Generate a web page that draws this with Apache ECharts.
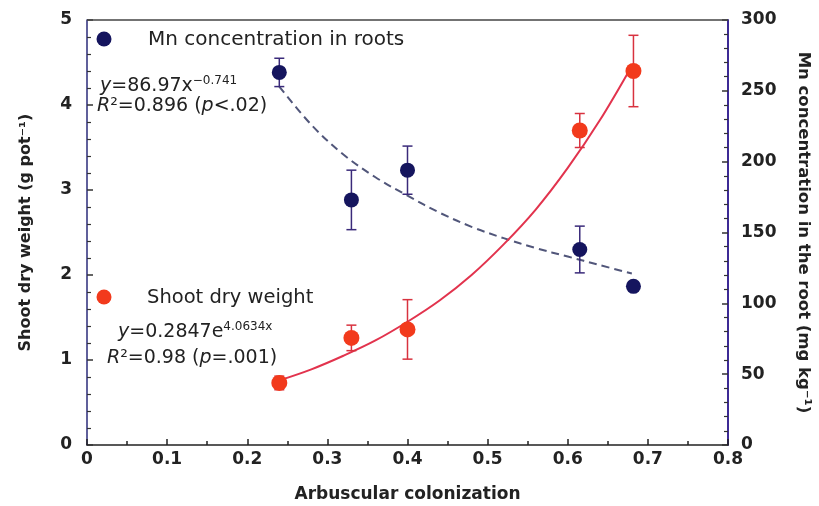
<!DOCTYPE html>
<html>
<head>
<meta charset="utf-8">
<script src="https://cdn.jsdelivr.net/npm/echarts@6/dist/echarts.min.js"></script>
<style>html,body{margin:0;padding:0;background:#fff;}#c{width:819px;height:506px;}</style>
</head>
<body>
<div id="c"></div>
<script>
// Observed data
const colonization = [0.24, 0.33, 0.40, 0.615, 0.682];
const mnRoot = [263, 173, 194, 138, 112];
const mnErr = [10, 21, 17, 16.5, 0];
const shootDW = [0.73, 1.26, 1.36, 3.70, 4.40];
const shootErr = [0.08, 0.15, 0.35, 0.20, 0.42];
// Fitted curves
const fitX = [0.24, 0.28, 0.32, 0.36, 0.40, 0.44, 0.48, 0.52, 0.56, 0.60, 0.64, 0.68];
const fitMn = [253, 226, 205, 189, 176, 164, 154, 146, 139, 133, 127, 121];
const fitShoot = [0.76, 0.89, 1.05, 1.23, 1.45, 1.70, 2.00, 2.36, 2.77, 3.26, 3.82, 4.46];
const xTicks = [0, 0.1, 0.2, 0.3, 0.4, 0.5, 0.6, 0.7, 0.8];

const FONT = 'DejaVu Sans';
const TXT = '#222';
const chart = echarts.init(document.getElementById('c'), null, {renderer: 'canvas'});

function errSeries(name, yIdx, ys, errs, color) {
  return {
    name: name, type: 'custom', yAxisIndex: yIdx, z: 3,
    data: colonization.map((x, i) => [x, ys[i] - errs[i], ys[i] + errs[i]]),
    encode: {x: 0, y: [1, 2]},
    renderItem: function (params, api) {
      const lo = api.coord([api.value(0), api.value(1)]);
      const hi = api.coord([api.value(0), api.value(2)]);
      if (Math.abs(hi[1] - lo[1]) < 1) return null;
      const w = 5;
      const st = {stroke: color, lineWidth: 1.5};
      return {type: 'group', children: [
        {type: 'line', shape: {x1: lo[0], y1: lo[1], x2: hi[0], y2: hi[1]}, style: st},
        {type: 'line', shape: {x1: lo[0] - w, y1: lo[1], x2: lo[0] + w, y2: lo[1]}, style: st},
        {type: 'line', shape: {x1: hi[0] - w, y1: hi[1], x2: hi[0] + w, y2: hi[1]}, style: st}
      ]};
    }
  };
}

const labelStyle = {color: TXT, fontFamily: FONT, fontSize: 17, fontWeight: 'bold'};
const eqRich = {
  i: {fontFamily: FONT, fontStyle: 'italic', fontSize: 19, fill: TXT, lineHeight: 21, verticalAlign: 'bottom'},
  a: {fontFamily: FONT, fontSize: 19, fill: TXT, lineHeight: 21, verticalAlign: 'bottom'},
  s: {fontFamily: FONT, fontSize: 12, fill: TXT, lineHeight: 11, verticalAlign: 'top'}
};

const option = {
  animation: false,
  backgroundColor: '#fff',
  grid: {left: 87, right: 91, top: 20, bottom: 61, outerBoundsMode: 'none', containLabel: false},
  xAxis: {
    type: 'value', min: 0, max: 0.8, interval: 0.1,
    position: 'bottom',
    axisLine: {show: true, onZero: false, lineStyle: {color: '#222', width: 1.5}},
    axisTick: {show: true, inside: true, length: 6, lineStyle: {color: '#222', width: 1.5}},
    minorTick: {show: true, splitNumber: 2, length: 4, lineStyle: {color: '#222', width: 1.5}},
    splitLine: {show: false},
    axisLabel: Object.assign({margin: 6, formatter: v => String(Math.round(v * 10) / 10)}, labelStyle),
    name: 'Arbuscular colonization', nameLocation: 'middle', nameGap: 41,
    nameTextStyle: {color: TXT, fontFamily: FONT, fontSize: 17, fontWeight: 'bold'}
  },
  yAxis: [
    {
      type: 'value', min: 0, max: 5, interval: 1, position: 'left',
      axisLine: {show: true, lineStyle: {color: '#2b2b7a', width: 1.5}},
      axisTick: {show: true, inside: true, length: 6, lineStyle: {color: '#333', width: 1.5}},
      minorTick: {show: true, splitNumber: 5, length: 4, lineStyle: {color: '#333', width: 1.2}},
      splitLine: {show: false},
      axisLabel: Object.assign({margin: 15}, labelStyle),
      name: 'Shoot dry weight (g pot⁻¹)', nameLocation: 'middle', nameGap: 53, nameRotate: 90,
      nameTextStyle: {color: TXT, fontFamily: FONT, fontSize: 16, fontWeight: 'bold'}
    },
    {
      type: 'value', min: 0, max: 300, interval: 50, position: 'right',
      axisLine: {show: true, lineStyle: {color: '#3d2a95', width: 2}},
      axisTick: {show: true, inside: true, length: 6, lineStyle: {color: '#333', width: 1.5}},
      minorTick: {show: true, splitNumber: 5, length: 4, lineStyle: {color: '#333', width: 1.2}},
      splitLine: {show: false},
      axisLabel: Object.assign({margin: 13}, labelStyle),
      name: 'Mn concentration in the root (mg kg⁻¹)', nameLocation: 'middle', nameGap: 67, nameRotate: -90,
      nameTextStyle: {color: TXT, fontFamily: FONT, fontSize: 16.5, fontWeight: 'bold'}
    }
  ],
  series: [
    {
      name: 'Mn fit', type: 'line', yAxisIndex: 1, smooth: 0.35, symbol: 'none', z: 2,
      data: fitX.map((x, i) => [x, fitMn[i]]),
      lineStyle: {color: '#51567a', width: 2, type: [8, 5]}
    },
    {
      name: 'Shoot fit', type: 'line', yAxisIndex: 0, smooth: 0.35, symbol: 'none', z: 2,
      data: fitX.map((x, i) => [x, fitShoot[i]]),
      lineStyle: {color: '#e2334d', width: 2}
    },
    errSeries('Mn err', 1, mnRoot, mnErr, '#3a2a7a'),
    errSeries('Shoot err', 0, shootDW, shootErr, '#d8323f'),
    {
      name: 'Mn concentration in roots', type: 'scatter', yAxisIndex: 1, z: 4,
      symbolSize: 15, itemStyle: {color: '#15155e', opacity: 1},
      data: colonization.map((x, i) => [x, mnRoot[i]])
    },
    {
      name: 'Shoot dry weight', type: 'scatter', yAxisIndex: 0, z: 4,
      symbolSize: 16, itemStyle: {color: '#f23a1c', opacity: 1},
      data: colonization.map((x, i) => [x, shootDW[i]])
    }
  ],
  graphic: [
    {type: 'line', shape: {x1: 87, y1: 20, x2: 728, y2: 20}, style: {stroke: '#444', lineWidth: 1.5}, z: 10},
    {type: 'circle', shape: {cx: 104, cy: 39, r: 7.5}, style: {fill: '#15155e'}},
    {type: 'text', x: 148, y: 40, style: {text: 'Mn concentration in roots', fill: TXT, font: '20px "DejaVu Sans"', verticalAlign: 'middle'}},
    {type: 'text', left: 100, top: 75, style: {text: '{i|y}{a|=86.97x}{s|−0.741}', rich: eqRich}},
    {type: 'text', left: 97, top: 97, style: {text: '{i|R}{a|²=0.896 (}{i|p}{a|<.02)}', rich: eqRich}},
    {type: 'circle', shape: {cx: 104, cy: 297, r: 7.5}, style: {fill: '#f23a1c'}},
    {type: 'text', x: 147, y: 298, style: {text: 'Shoot dry weight', fill: TXT, font: '19.5px "DejaVu Sans"', verticalAlign: 'middle'}},
    {type: 'text', left: 118, top: 321, style: {text: '{i|y}{a|=0.2847e}{s|4.0634x}', rich: eqRich}},
    {type: 'text', left: 107, top: 349, style: {text: '{i|R}{a|²=0.98 (}{i|p}{a|=.001)}', rich: eqRich}}
  ]
};
chart.setOption(option);
</script>
</body>
</html>
